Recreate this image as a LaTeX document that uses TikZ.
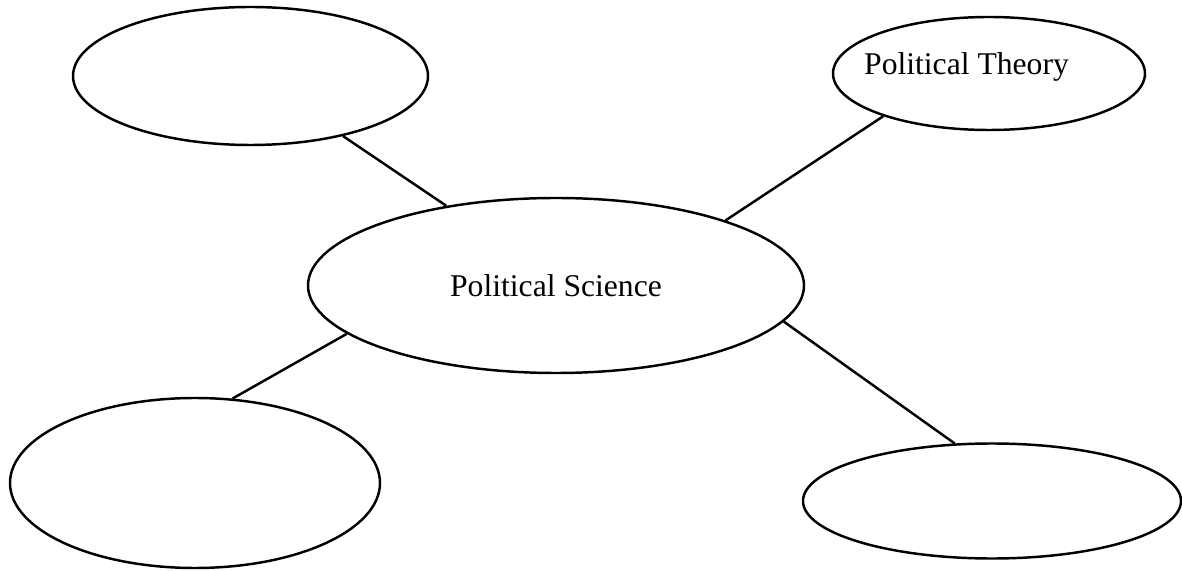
\documentclass[tikz,border=0pt]{standalone}
\usepackage{fontspec}
\setmainfont{Liberation Serif}
\usepackage{tikz}
\usetikzlibrary{shapes,positioning}
\tikzstyle{topic} = [ellipse, draw=black, line width=1.4pt, inner sep=0pt, font=\fontsize{18}{22}\selectfont]
\tikzstyle{link} = [line width=1.4pt, color=black]

\begin{document}
\begin{tikzpicture}
\useasboundingbox (0,0) rectangle (23.64,11.4);
% Central topic
\node (polsci) [topic, minimum width=9.92cm, minimum height=3.5cm] at (11.12,5.69) {Political Science};

% Branches around it
\node (upleft) [topic, minimum width=7.1cm, minimum height=2.76cm] at (5.01,9.88) {};
\node (theory) [topic, minimum width=6.24cm, minimum height=2.26cm] at (19.78,9.93) {};
\node[font=\fontsize{18}{22}\selectfont] (theorytext) at (19.33,10.07) {Political Theory};
\node (lowleft) [topic, minimum width=7.4cm, minimum height=3.4cm] at (3.9,1.74) {};
\node (lowright) [topic, minimum width=7.56cm, minimum height=2.3cm] at (19.84,1.38) {};

\draw[link] (upleft.-33) -- (polsci.144.4);
\draw[link] (polsci.21.3) -- (theory.-158);
\draw[link] (polsci.193.7) -- (lowleft.66);
\draw[link] (polsci.-9.4) -- (lowright.123);
\end{tikzpicture}
\end{document}
